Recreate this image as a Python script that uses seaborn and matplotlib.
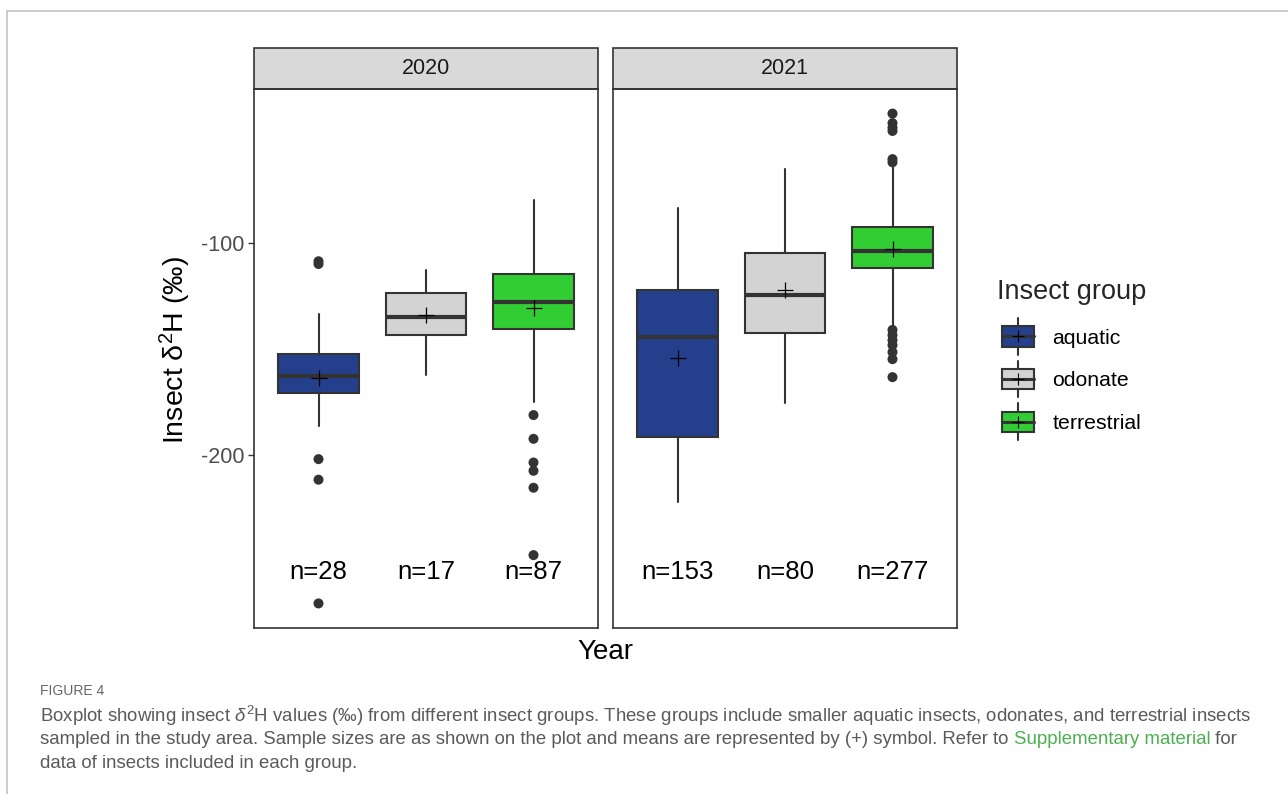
import numpy as np
import pandas as pd
import matplotlib.pyplot as plt
import seaborn as sns
from matplotlib.patches import Patch, Rectangle
from matplotlib.lines import Line2D
from matplotlib.text import Annotation
from matplotlib.legend_handler import HandlerBase

# Dados
years = ["2020", "2021"]
groups = ["aquatic", "odonate", "terrestrial"]
group_colors = ["#243F8C", "#D3D3D3", "#32CD32"]
n_counts = [[28, 17, 87], [153, 80, 277]]
whisker_low = [[-186.3, -162.4, -174.7], [-221.9, -175.4, -140.0]]
q1 = [[-170.6, -143.5, -140.3], [-191.3, -142.2, -111.7]]
median = [[-162.7, -134.9, -127.5], [-144.3, -124.6, -103.8]]
q3 = [[-152.4, -123.7, -114.3], [-122.2, -104.6, -92.5]]
whisker_high = [[-133.5, -112.7, -79.7], [-83.6, -64.9, -63.0]]
means = [[-163.8, -134.0, -130.8], [-154.1, -122.2, -102.6]]
outliers = [
    [[-108.5, -109.8, -201.9, -211.6, -270.0], [],
     [-181.1, -192.3, -203.5, -207.4, -215.4, -247.2]],
    [[], [],
     [-38.8, -43.3, -45.4, -47.0, -60.3, -61.8,
      -140.9, -143.4, -145.8, -148.1, -151.4, -154.7, -163.2]],
]

# Tabelas longas para o seaborn
mean_rows, out_rows = [], []
for i, yr in enumerate(years):
    for j, g in enumerate(groups):
        mean_rows.append({"year": yr, "group": g, "pos": j, "value": means[i][j]})
        for v in outliers[i][j]:
            out_rows.append({"year": yr, "group": g, "pos": j, "value": v})
mean_df = pd.DataFrame(mean_rows)
out_df = pd.DataFrame(out_rows)

sns.set_theme(style="white")
plt.rcParams["font.family"] = ["Liberation Sans", "DejaVu Sans"]
plt.rcParams["mathtext.fontset"] = "custom"
plt.rcParams["mathtext.rm"] = "Liberation Sans"
plt.rcParams["mathtext.it"] = "Liberation Sans:italic"
plt.rcParams["mathtext.default"] = "regular"

W, H = 1288, 794
dark = "#333333"
fig = plt.figure(figsize=(W / 100, H / 100), dpi=100)

panel_left = [254, 613]
panel_w, panel_top, panel_bot = 344, 89, 628
strip_h = 41
ylim = (-281.6, -27.2)

for i, yr in enumerate(years):
    ax = fig.add_axes([panel_left[i] / W, (H - panel_bot) / H,
                       panel_w / W, (panel_bot - panel_top) / H])
    stats = []
    for j in range(3):
        stats.append({"med": median[i][j], "q1": q1[i][j], "q3": q3[i][j],
                      "whislo": whisker_low[i][j], "whishi": whisker_high[i][j],
                      "fliers": []})
    bp = ax.bxp(stats, positions=[0, 1, 2], widths=0.75, patch_artist=True,
                showfliers=False, showcaps=False, manage_ticks=False,
                boxprops=dict(edgecolor=dark, linewidth=1.5),
                medianprops=dict(color=dark, linewidth=3, solid_capstyle="butt"),
                whiskerprops=dict(color=dark, linewidth=1.5))
    for patch, c in zip(bp["boxes"], group_colors):
        patch.set_facecolor(c)

    sub_out = out_df[out_df["year"] == yr]
    if len(sub_out):
        sns.scatterplot(data=sub_out, x="pos", y="value", color=dark, s=52,
                        edgecolor="none", ax=ax, zorder=4, legend=False)
    sns.scatterplot(data=mean_df[mean_df["year"] == yr], x="pos", y="value",
                    marker="+", color="black", s=120, linewidth=0.9, ax=ax,
                    zorder=5, legend=False)

    for j in range(3):
        ax.text(j, -255, f"n={n_counts[i][j]}", ha="center", va="center",
                fontsize=18.5, color="black")

    ax.set_xlim(-0.6, 2.6)
    ax.set_ylim(*ylim)
    ax.set_xticks([])
    ax.set_xlabel("")
    ax.set_ylabel("")
    ax.set_yticks([-100, -200])
    if i == 0:
        ax.set_yticklabels(["-100", "-200"])
        ax.tick_params(axis="y", left=True, length=4, width=1, color=dark,
                       labelsize=15.5, labelcolor="#4D4D4D", pad=3)
    else:
        ax.set_yticklabels([])
        ax.tick_params(axis="y", left=False, length=0)
    for sp in ax.spines.values():
        sp.set_color(dark)
        sp.set_linewidth(1.2)

    # faixa do painel
    ax.add_patch(Rectangle((0, 1), 1, strip_h / (panel_bot - panel_top),
                           transform=ax.transAxes, clip_on=False,
                           facecolor="#D9D9D9", edgecolor=dark, linewidth=1.2))
    ax.text(0.5, 1 + strip_h / 2 / (panel_bot - panel_top), yr,
            transform=ax.transAxes, ha="center", va="center",
            fontsize=15.5, color="#1A1A1A")

fig.text(175 / W, 1 - 350 / H, "Insect δ$^2$H (‰)", rotation=90,
         ha="center", va="center", fontsize=20.5, color="black")
fig.text(605 / W, 1 - 652 / H, "Year", ha="center", va="center",
         fontsize=20, color="black")


# Legenda com chave em forma de boxplot
class BoxKeyHandler(HandlerBase):
    def create_artists(self, legend, orig_handle, xdescent, ydescent,
                       width, height, fontsize, trans):
        off = width * 5 / 37
        x0, y0 = -xdescent + off, -ydescent
        w = width - off
        xc, yc = x0 + w / 2, y0 + height / 2
        whisk = Line2D([xc, xc], [y0 - 0.4 * height, y0 + 1.4 * height],
                       color=dark, lw=1.5, transform=trans)
        box = Rectangle((x0, y0), w, height,
                        facecolor=orig_handle.get_facecolor(),
                        edgecolor=dark, lw=1.5, transform=trans)
        med = Line2D([x0, x0 + w], [yc, yc], color=dark, lw=2.2,
                     transform=trans)
        plus = Line2D([xc], [yc], marker="+", ms=9, mew=0.8, color="black",
                      transform=trans)
        return [whisk, box, med, plus]


handles = [Patch(facecolor=c) for c in group_colors]
leg = fig.legend(handles, groups, title="Insect group", loc="upper left",
                 bbox_to_anchor=(997 / W, 1 - 279 / H), frameon=False,
                 fontsize=15.3, title_fontsize=19.5, alignment="left",
                 handler_map={Patch: BoxKeyHandler()},
                 handlelength=1.75, handleheight=1.1, handletextpad=0.85,
                 labelspacing=1.0, borderpad=0, borderaxespad=0)
plt.setp(leg.get_texts(), color="black")

# Moldura da página
fig.add_artist(Line2D([7 / W, 1], [1 - 11 / H, 1 - 11 / H],
                      transform=fig.transFigure, color="#C4C4C4", lw=1.2))
fig.add_artist(Line2D([7 / W, 7 / W], [0, 1 - 11 / H],
                      transform=fig.transFigure, color="#C4C4C4", lw=1.2))

# Legenda da figura
cap_color = "#5A5A5A"
cap_size = 13.4
fig.text(40 / W, 1 - 691 / H, "FIGURE 4", ha="left", va="center",
         fontsize=10, color="#666666")
fig.text(40 / W, 1 - 716 / H,
         r"Boxplot showing insect $\mathit{δ}^2$H values (‰) from different insect groups. "
         "These groups include smaller aquatic insects, odonates, and terrestrial insects",
         ha="left", va="center", fontsize=cap_size, color=cap_color)
t1 = fig.text(40 / W, 1 - 740 / H,
              "sampled in the study area. Sample sizes are as shown on the plot "
              "and means are represented by (+) symbol. Refer to ",
              ha="left", va="center", fontsize=cap_size, color=cap_color)
t2 = Annotation("Supplementary material", xy=(1, 0), xycoords=t1,
                ha="left", va="bottom", fontsize=cap_size, color="#4CAF50")
fig.add_artist(t2)
t3 = Annotation(" for", xy=(1, 0), xycoords=t2,
                ha="left", va="bottom", fontsize=cap_size, color=cap_color)
fig.add_artist(t3)
fig.text(40 / W, 1 - 764 / H, "data of insects included in each group.",
         ha="left", va="center", fontsize=cap_size, color=cap_color)

fig.savefig("out.png", dpi=100)
